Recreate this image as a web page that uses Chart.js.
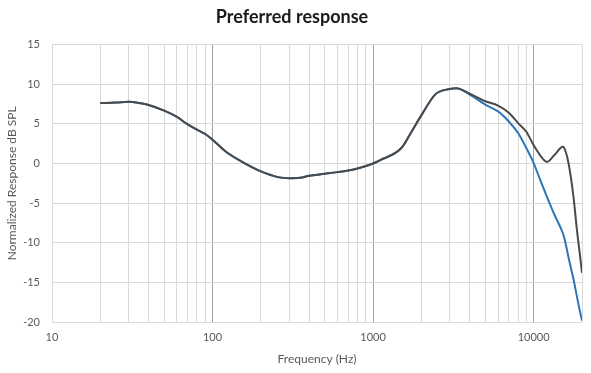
<!DOCTYPE html>
<html>
<head>
<meta charset="utf-8">
<title>Preferred response</title>
<script src="https://cdn.jsdelivr.net/npm/chart.js@4/dist/chart.umd.min.js"></script>
<style>
  body { margin: 0; background: #fff; }
  canvas { display: block; }
</style>
</head>
<body>
<canvas id="chart" width="591" height="373"></canvas>
<script>
// =======================
// DATA
// =======================
const freqs = [20, 25, 30, 35, 40, 50, 60, 70, 80, 90, 100, 120, 150, 200, 260, 300, 350, 400,
  500, 600, 700, 800, 1000, 1100, 1500, 1700, 2000, 2450, 3000, 3300, 4000, 5000, 6000, 7000,
  8000, 9000, 10000, 11000, 12100, 13500, 15200, 15700, 16500, 17700, 18600, 19250, 20000];

// dark gray curve
const grayValues = [7.63, 7.68, 7.78, 7.62, 7.38, 6.66, 5.87, 4.93, 4.26, 3.72, 3.0, 1.55, 0.3, -1.0,
  -1.75, -1.85, -1.8, -1.55, -1.3, -1.09, -0.88, -0.63, 0.0, 0.4, 1.95, 3.7, 6.1, 8.75, 9.4, 9.5,
  8.8, 7.85, 7.3, 6.4, 5.1, 4.0, 2.3, 1.0, 0.2, 1.1, 2.1, 1.7, 0.0, -4.2, -8.4, -10.9, -13.8];

// blue curve
const blueValues = [7.63, 7.68, 7.78, 7.62, 7.38, 6.66, 5.87, 4.93, 4.26, 3.72, 3.0, 1.55, 0.3, -1.0,
  -1.75, -1.85, -1.8, -1.55, -1.3, -1.09, -0.88, -0.63, 0.0, 0.4, 1.95, 3.7, 6.1, 8.75, 9.4, 9.5,
  8.7, 7.42, 6.57, 5.3, 3.84, 1.95, 0.05, -2.1, -4.2, -6.5, -8.8, -9.8, -11.9, -14.6, -16.8, -18.3, -19.8];

const xGridValues = [10, 20, 30, 40, 50, 60, 70, 80, 90, 100, 200, 300, 400, 500, 600, 700, 800, 900,
  1000, 2000, 3000, 4000, 5000, 6000, 7000, 8000, 9000, 10000, 20000];
const xTickLabels = ['10', '100', '1000', '10000'];
const majorLines = [100, 1000, 10000];

const font = 'Lato, "Open Sans", sans-serif';

// =======================
// CHART
// =======================
const chart = new Chart(document.getElementById('chart'), {
  type: 'line',
  data: {
    datasets: [{
      label: 'Gray',
      data: freqs.map((f, i) => ({ x: f, y: grayValues[i] })),
      borderColor: '#4a4a4a',
      borderWidth: 2,
      pointRadius: 0,
      cubicInterpolationMode: 'monotone',
      order: 0
    }, {
      label: 'Blue',
      data: freqs.map((f, i) => ({ x: f, y: blueValues[i] })),
      borderColor: '#2e75b6',
      borderWidth: 2,
      pointRadius: 0,
      cubicInterpolationMode: 'monotone',
      order: 1
    }]
  },
  options: {
    responsive: false,
    animation: false,
    layout: { padding: { left: 0, right: 7, top: 0, bottom: 0 } },
    plugins: {
      legend: { display: false },
      tooltip: { enabled: false },
      title: {
        display: true,
        text: 'Preferred response',
        color: '#1a1a1a',
        font: { family: font, size: 18, weight: 'bold' },
        padding: { top: 6, bottom: 17 }
      }
    },
    scales: {
      x: {
        type: 'logarithmic',
        min: 10,
        max: 20000,
        afterBuildTicks: (scale) => {
          scale.ticks = xGridValues.map(v => ({ value: v }));
        },
        afterFit: (scale) => { scale.height = 51; },
        border: { display: false },
        grid: {
          drawTicks: false,
          lineWidth: 1,
          color: (ctx) => majorLines.includes(ctx.tick && ctx.tick.value) ? '#a0a0a0' : '#d9d9d9'
        },
        ticks: {
          autoSkip: false,
          maxRotation: 0,
          padding: 9,
          color: '#595959',
          font: { family: font, size: 11 },
          callback: (value) => xTickLabels.includes(String(value)) ? String(value) : ''
        },
        title: {
          display: true,
          text: 'Frequency (Hz)',
          color: '#595959',
          font: { family: font, size: 12 },
          padding: { top: 7, bottom: 7 }
        }
      },
      y: {
        min: -20,
        max: 15,
        afterFit: (scale) => { scale.width = 52; },
        border: { display: false },
        grid: { drawTicks: false, color: '#d9d9d9', lineWidth: 1 },
        ticks: {
          stepSize: 5,
          padding: 12,
          color: '#595959',
          font: { family: font, size: 11 }
        },
        title: {
          display: true,
          text: 'Normalized Response dB SPL',
          color: '#595959',
          font: { family: font, size: 12 },
          padding: { top: 5, bottom: 0 }
        }
      }
    }
  }
});
</script>
</body>
</html>
